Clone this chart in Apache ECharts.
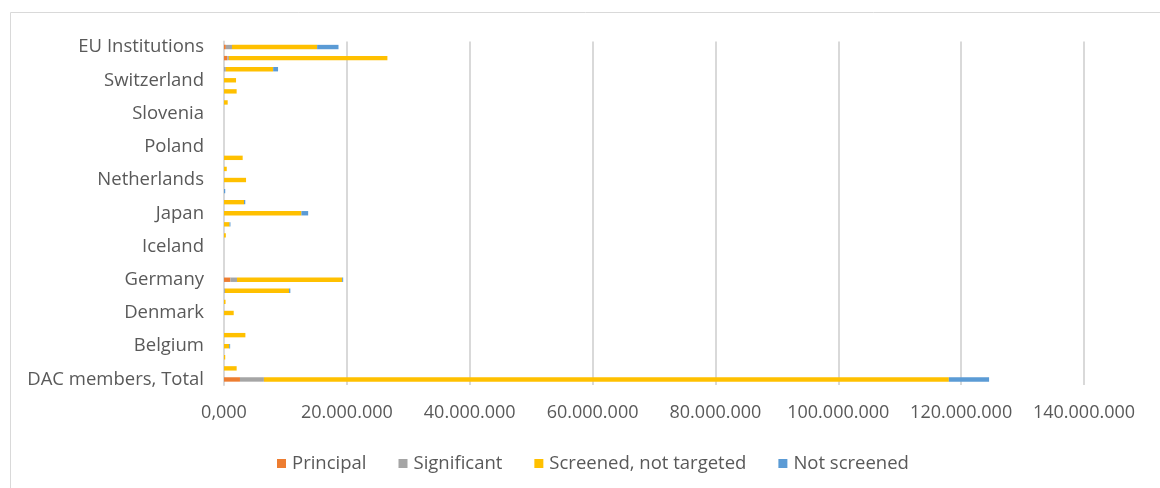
<!DOCTYPE html>
<html>
<head>
<meta charset="utf-8">
<script src="https://cdn.jsdelivr.net/npm/echarts@6/dist/echarts.min.js"></script>
<style>
  html, body { margin: 0; padding: 0; background: #ffffff; }
  #chart { width: 1160px; height: 488px; }
</style>
</head>
<body>
<div id="chart"></div>
<script>
// Donors, bottom to top
const categories = [
  'DAC members, Total', 'Australia', 'Austria', 'Belgium', 'Canada', 'Czech Republic',
  'Denmark', 'Finland', 'France', 'Germany', 'Greece', 'Hungary', 'Iceland', 'Ireland',
  'Italy', 'Japan', 'Korea', 'Luxembourg', 'Netherlands', 'New Zealand', 'Norway',
  'Poland', 'Portugal', 'Slovak Republic', 'Slovenia', 'Spain', 'Sweden', 'Switzerland',
  'United Kingdom', 'United States', 'EU Institutions'
];

// Values in USD, same order as categories
const principal = [
  2600000, 0, 0, 0, 0, 0,
  0, 0, 0, 1040000, 0, 0, 0, 0,
  0, 0, 0, 0, 0, 0, 0,
  0, 0, 0, 0, 0, 0, 0,
  0, 550000, 300000
];
const significant = [
  3900000, 0, 0, 0, 0, 0,
  0, 0, 150000, 1080000, 0, 0, 0, 0,
  0, 0, 0, 0, 0, 0, 0,
  0, 0, 0, 0, 0, 0, 0,
  300000, 250000, 1000000
];
const screenedNotTargeted = [
  111500000, 2060000, 200000, 850000, 3480000, 0,
  1580000, 250000, 10450000, 17120000, 0, 0, 0, 300000,
  900000, 12600000, 3260000, 0, 3590000, 450000, 3040000,
  0, 0, 0, 0, 600000, 2060000, 1960000,
  7700000, 25800000, 13860000
];
const notScreened = [
  6550000, 0, 0, 150000, 0, 0,
  0, 0, 200000, 160000, 0, 0, 0, 0,
  150000, 1100000, 200000, 200000, 0, 0, 0,
  0, 0, 0, 0, 0, 0, 0,
  800000, 0, 3480000
];

const xTickLabels = ['0,000', '20.000.000', '40.000.000', '60.000.000', '80.000.000',
  '100.000.000', '120.000.000', '140.000.000'];
const xStep = 20000000;

const seriesNames = ['Principal', 'Significant', 'Screened, not targeted', 'Not screened'];
const seriesData = [principal, significant, screenedNotTargeted, notScreened];
const colors = ['#ED7D31', '#A5A5A5', '#FFC000', '#5B9BD5'];

const textFont = '"Open Sans", "Liberation Sans", sans-serif';
const textColor = '#595959';

const chart = echarts.init(document.getElementById('chart'), null, { renderer: 'canvas' });

chart.setOption({
  animation: false,
  color: colors,
  textStyle: { fontFamily: textFont },
  graphic: [{
    type: 'rect',
    shape: { x: 10.5, y: 12.5, width: 1200, height: 520 },
    style: { fill: 'none', stroke: '#d9d9d9', lineWidth: 1 },
    silent: true
  }],
  grid: { left: 224, right: 76, top: 41.5, bottom: 103, containLabel: false },
  legend: {
    data: seriesNames,
    left: 277,
    top: 454,
    padding: 0,
    itemWidth: 9,
    itemHeight: 9,
    itemGap: 32,
    icon: 'rect',
    textStyle: { color: textColor, fontSize: 18.5, fontFamily: textFont, padding: [0, 0, 0, 1] }
  },
  xAxis: {
    type: 'value',
    min: 0,
    max: xStep * (xTickLabels.length - 1),
    interval: xStep,
    axisLine: { show: false },
    axisTick: { show: false },
    splitLine: { show: true, lineStyle: { color: '#d9d9d9', width: 2 } },
    axisLabel: {
      color: textColor,
      fontSize: 18,
      fontFamily: textFont,
      margin: 19,
      formatter: v => xTickLabels[Math.round(v / xStep)]
    }
  },
  yAxis: {
    type: 'category',
    data: categories,
    axisLine: { show: true, lineStyle: { color: '#d9d9d9', width: 2 } },
    axisTick: { show: false },
    axisLabel: {
      interval: 2,
      color: textColor,
      fontSize: 18.5,
      fontFamily: textFont,
      margin: 20
    }
  },
  series: seriesNames.map((name, i) => ({
    name,
    type: 'bar',
    stack: 'total',
    data: seriesData[i],
    barWidth: 4.4,
    itemStyle: { color: colors[i] },
    emphasis: { disabled: true }
  }))
});
</script>
</body>
</html>
